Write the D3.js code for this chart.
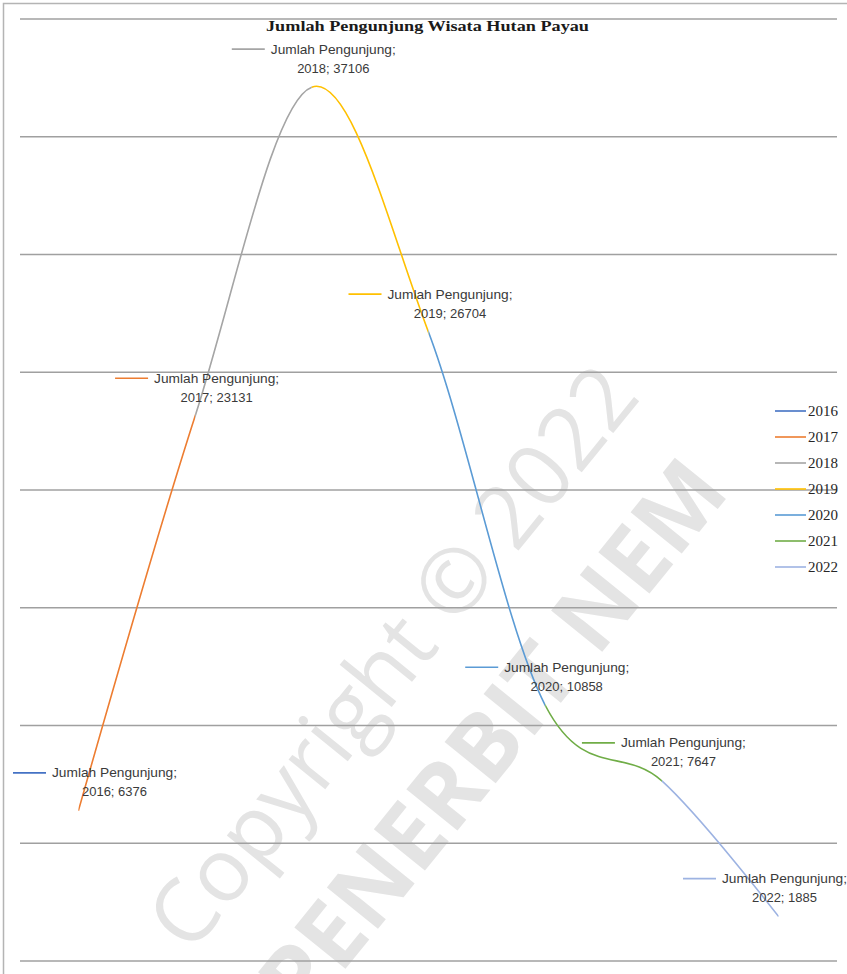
<!DOCTYPE html>
<html>
<head>
<meta charset="utf-8">
<script src="https://cdn.jsdelivr.net/npm/d3@7"></script>
<style>
  html, body { margin: 0; padding: 0; background: #ffffff; }
  svg { display: block; }
</style>
</head>
<body>
<div id="chart"></div>
<script>
// Jumlah pengunjung Wisata Hutan Payau per tahun
const years = ["2016", "2017", "2018", "2019", "2020", "2021", "2022"];
const visitors = [6376, 23131, 37106, 26704, 10858, 7647, 1885];
const yearColors = ["#4472C4", "#ED7D31", "#A5A5A5", "#FFC000", "#5B9BD5", "#70AD47", "#9DB3E2"];
const gridValues = [0, 5000, 10000, 15000, 20000, 25000, 30000, 35000, 40000];
const seriesName = "Jumlah Pengunjung";
const chartTitle = "Jumlah Pengunjung Wisata Hutan Payau";

const W = 847, H = 974;
const plot = { left: 20, right: 837, top: 19, bottom: 961 };

const svg = d3.select("#chart").append("svg")
  .attr("width", W).attr("height", H);

const x = d3.scalePoint().domain(years).range([plot.left, plot.right]).padding(0.5);
const y = d3.scaleLinear().domain([0, 40000]).range([plot.bottom, plot.top]);

const points = years.map((yr, i) => ({ year: yr, value: visitors[i], color: yearColors[i] }));

// watermark, behind the chart
const wm = svg.append("g").attr("fill", "#e4e4e4").attr("text-anchor", "middle");
wm.append("text")
  .attr("transform", "translate(390,655) rotate(-51)")
  .attr("dominant-baseline", "central")
  .attr("font-family", "'Open Sans', sans-serif")
  .attr("font-size", 88)
  .text("Copyright \u00A9 2022");
wm.append("text")
  .attr("transform", "translate(490,734) rotate(-51)")
  .attr("dominant-baseline", "central")
  .attr("font-family", "'Open Sans', sans-serif")
  .attr("font-weight", 700)
  .attr("font-size", 92)
  .text("PENERBIT NEM");

// chart frame (left and top edges)
svg.append("path")
  .attr("d", `M3.5,${H} V3.5 H${W}`)
  .attr("fill", "none").attr("stroke", "#b4b4b4").attr("stroke-width", 1.5);

// horizontal gridlines
svg.append("g").selectAll("line").data(gridValues).join("line")
  .attr("x1", plot.left).attr("x2", plot.right)
  .attr("y1", d => y(d)).attr("y2", d => y(d))
  .attr("stroke", "#a0a0a0").attr("stroke-width", 1.6);

// title
svg.append("text")
  .attr("x", 266).attr("y", 31)
  .attr("font-family", "'Liberation Serif', 'Times New Roman', serif")
  .attr("font-weight", 700).attr("font-size", 15)
  .attr("fill", "#1a1a1a")
  .attr("textLength", 323).attr("lengthAdjust", "spacingAndGlyphs")
  .text(chartTitle);

// smoothed line, each stretch coloured by the year it reaches
const line = d3.line()
  .x(d => x(d.year)).y(d => y(d.value))
  .curve(d3.curveCardinal.tension(0));
const fullPath = line(points);

const defs = svg.append("defs");
points.slice(1).forEach((p, i) => {
  defs.append("clipPath").attr("id", "seg" + (i + 1))
    .append("rect")
    .attr("x", x(points[i].year)).attr("y", 0)
    .attr("width", x(p.year) - x(points[i].year)).attr("height", H);
});
svg.append("g").selectAll("path").data(points.slice(1)).join("path")
  .attr("d", fullPath)
  .attr("clip-path", (d, i) => `url(#seg${i + 1})`)
  .attr("fill", "none")
  .attr("stroke", d => d.color)
  .attr("stroke-width", 1.6);

// data labels with legend key
const labelFont = "'Liberation Sans', Arial, sans-serif";
const blockW = 165;
const labels = svg.append("g").selectAll("g").data(points).join("g")
  .attr("transform", d => {
    const px = x(d.year), py = y(d.value);
    const left = Math.max(13, Math.min(px - 80, 848 - blockW));
    return `translate(${left},${py - 38})`;
  });
labels.append("line")
  .attr("x1", 0).attr("x2", 33).attr("y1", 0).attr("y2", 0)
  .attr("stroke", d => d.color).attr("stroke-width", 1.6);
labels.append("text")
  .attr("x", 39).attr("y", 0).attr("dy", "0.35em")
  .attr("font-family", labelFont).attr("font-size", 13)
  .attr("fill", "#3a3a3a")
  .attr("textLength", 125).attr("lengthAdjust", "spacingAndGlyphs")
  .text(seriesName + ";");
labels.append("text")
  .attr("x", 39 + 62.5).attr("y", 19).attr("dy", "0.35em")
  .attr("text-anchor", "middle")
  .attr("font-family", labelFont).attr("font-size", 13)
  .attr("fill", "#3a3a3a")
  .text(d => `${d.year}; ${d.value}`);

// legend
const legend = svg.append("g").selectAll("g").data(points).join("g")
  .attr("transform", (d, i) => `translate(775,${411 + i * 26})`);
legend.append("line")
  .attr("x1", 0).attr("x2", 31).attr("y1", 0).attr("y2", 0)
  .attr("stroke", d => d.color).attr("stroke-width", 1.6);
legend.append("text")
  .attr("x", 33).attr("y", 0).attr("dy", "0.35em")
  .attr("font-family", "'Liberation Serif', 'Times New Roman', serif")
  .attr("font-size", 15).attr("fill", "#262626")
  .attr("textLength", 30).attr("lengthAdjust", "spacingAndGlyphs")
  .text(d => d.year);
</script>
</body>
</html>
